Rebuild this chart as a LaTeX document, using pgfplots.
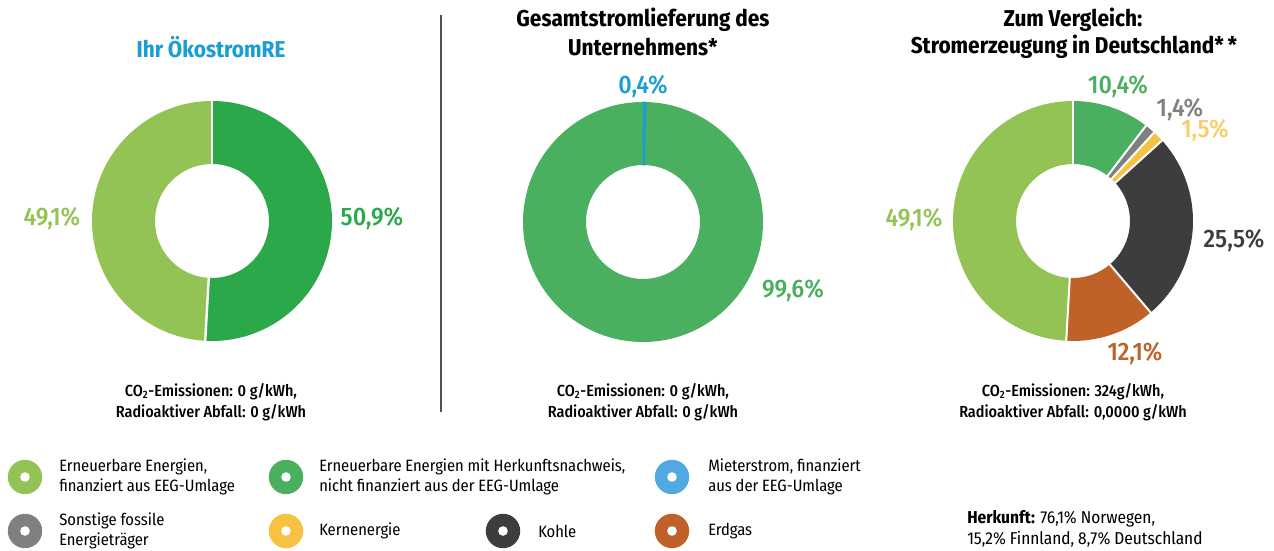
\documentclass[border=0pt]{standalone}
\usepackage{fontspec}
\setmainfont{Fira Sans Condensed}
\newfontfamily\medfont{Fira Sans Condensed Medium}
\usepackage{pgfplots}
\pgfplotsset{compat=1.18}
\definecolor{lgreen}{RGB}{147,195,84}
\definecolor{dgreen}{RGB}{43,168,74}
\definecolor{mgreen}{RGB}{74,175,94}
\definecolor{tblue}{RGB}{26,158,212}
\definecolor{lblue}{RGB}{80,170,225}
\definecolor{fgray}{RGB}{128,128,128}
\definecolor{nyellow}{RGB}{245,194,66}
\definecolor{lyellow}{RGB}{247,207,106}
\definecolor{coal}{RGB}{61,61,61}
\definecolor{gas}{RGB}{191,97,41}
\definecolor{sepline}{RGB}{80,80,80}

% one ring segment: cx, cy, start %, end %, style
\newcommand\seg[5]{%
  \pgfmathsetmacro\aA{90-3.6*#3}%
  \pgfmathsetmacro\aB{90-3.6*#4}%
  \edef\tmp{\noexpand\fill[#5] (axis cs:{#1+120*cos(\aA)},{#2+120*sin(\aA)})
     arc[start angle=\aA, end angle=\aB, radius=90pt]
     -- (axis cs:{#1+57*cos(\aB)},{#2+57*sin(\aB)})
     arc[start angle=\aB, end angle=\aA, radius=42.75pt] -- cycle;}%
  \tmp}
% donut: cx, cy, separator width, list share/colour
\newcommand\donut[4]{%
  \gdef\cum{0}%
  \foreach \s/\c in {#4} {%
    \pgfmathsetmacro\e{\cum+\s}%
    \seg{#1}{#2}{\cum}{\e}{\c}%
    \xdef\cum{\e}%
  }%
  \ifdim#3>0pt
  \gdef\cum{0}%
  \foreach \s/\c in {#4} {%
    \pgfmathsetmacro\aA{90-3.6*\cum}%
    \edef\tmp{\noexpand\draw[white,line width=#3] (axis cs:{#1+50*cos(\aA)},{#2+50*sin(\aA)}) -- (axis cs:{#1+126*cos(\aA)},{#2+126*sin(\aA)});}\tmp
    \pgfmathsetmacro\e{\cum+\s}\xdef\cum{\e}%
  }\fi}
\newcommand\ring[3]{%
  \fill[#3] (axis cs:#1,#2) circle[radius=12.9pt];
  \fill[white] (axis cs:#1,#2) circle[radius=3.6pt];}

\begin{document}
\begin{tikzpicture}
\begin{axis}[x=0.75pt,y=0.75pt,xmin=0,xmax=1274,ymin=0,ymax=550,
  hide axis,clip=false]
\coordinate (ll) at (axis cs:0,0);
\coordinate (ur) at (axis cs:1274,550);

% donuts (shares in percent, clockwise from top)
\donut{212}{329}{1.8pt}{50.9/dgreen,49.1/lgreen}
\donut{643}{328}{0pt}{0.4/tblue,99.6/mgreen}
\seg{643}{328}{0}{0.4}{tblue,draw=tblue,line width=0.7pt}
\donut{1073}{329}{1.5pt}{10.4/mgreen,1.4/fgray,1.5/nyellow,25.5/coal,12.1/gas,49.1/lgreen}

% titles
\tikzset{ttl/.style={font=\bfseries\fontsize{17.2}{19}\selectfont}}
\node[ttl,text=tblue] at (axis cs:211,503) {Ihr ÖkostromRE};
\node[ttl] at (axis cs:643,530) {Gesamtstromlieferung des};
\node[ttl] at (axis cs:643,503) {Unternehmens*};
\node[ttl] at (axis cs:1073,530) {Zum Vergleich:};
\node[ttl] at (axis cs:1074,503) {Stromerzeugung in Deutschland*\,*};

% percentage labels
\tikzset{pct/.style={font=\medfont\fontsize{19}{21}\selectfont}}
\node[pct,text=lgreen] at (axis cs:52,331) {49,1\%};
\node[pct,text=dgreen] at (axis cs:372,331) {50,9\%};
\node[pct,text=tblue] at (axis cs:643,463) {0,4\%};
\node[pct,text=mgreen] at (axis cs:793,259) {99,6\%};
\node[pct,text=mgreen] at (axis cs:1118,463) {10,4\%};
\node[pct,text=fgray] at (axis cs:1180,440) {1,4\%};
\node[pct,text=lyellow] at (axis cs:1205,419) {1,5\%};
\node[pct,text=coal] at (axis cs:1234,309) {25,5\%};
\node[pct,text=gas] at (axis cs:1135,196) {12,1\%};
\node[pct,text=lgreen] at (axis cs:914,330) {49,1\%};

% emissions
\tikzset{emi/.style={font=\medfont\fontsize{12}{15.5}\selectfont,align=center}}
\node[emi] at (axis cs:211,148) {CO\textsubscript{2}-Emissionen: 0 g/kWh,\\Radioaktiver Abfall: 0 g/kWh};
\node[emi] at (axis cs:643,148) {CO\textsubscript{2}-Emissionen: 0 g/kWh,\\Radioaktiver Abfall: 0 g/kWh};
\node[emi] at (axis cs:1073,148) {CO\textsubscript{2}-Emissionen: 324g/kWh,\\Radioaktiver Abfall: 0,0000 g/kWh};

% separator
\draw[sepline,line width=1.1pt] (axis cs:441,535) -- (axis cs:441,138);

% legend
\tikzset{leg/.style={font=\fontsize{12.3}{15}\selectfont,align=left,anchor=west,inner sep=0pt}}
\ring{25}{73}{lgreen}
\node[leg] at (axis cs:59,73) {Erneuerbare Energien,\\finanziert aus EEG-Umlage};
\ring{286}{73}{mgreen}
\node[leg] at (axis cs:319,73) {Erneuerbare Energien mit Herkunftsnachweis,\\nicht finanziert aus der EEG-Umlage};
\ring{672}{73}{lblue}
\node[leg] at (axis cs:708,73) {Mieterstrom, finanziert\\aus der EEG-Umlage};
\ring{25}{19}{fgray}
\node[leg] at (axis cs:59,19) {Sonstige fossile\\Energieträger};
\ring{286}{19}{nyellow}
\node[leg] at (axis cs:319,19) {Kernenergie};
\ring{503}{19}{coal}
\node[leg] at (axis cs:538,19) {Kohle};
\ring{672}{19}{gas}
\node[leg] at (axis cs:708,19) {Erdgas};
\node[leg,font=\fontsize{12.9}{15.5}\selectfont] at (axis cs:967,21) {\textbf{Herkunft:} 76,1\% Norwegen,\\15,2\% Finnland, 8,7\% Deutschland};
\end{axis}
\pgfresetboundingbox
\useasboundingbox (ll) rectangle (ur);
\end{tikzpicture}
\end{document}
